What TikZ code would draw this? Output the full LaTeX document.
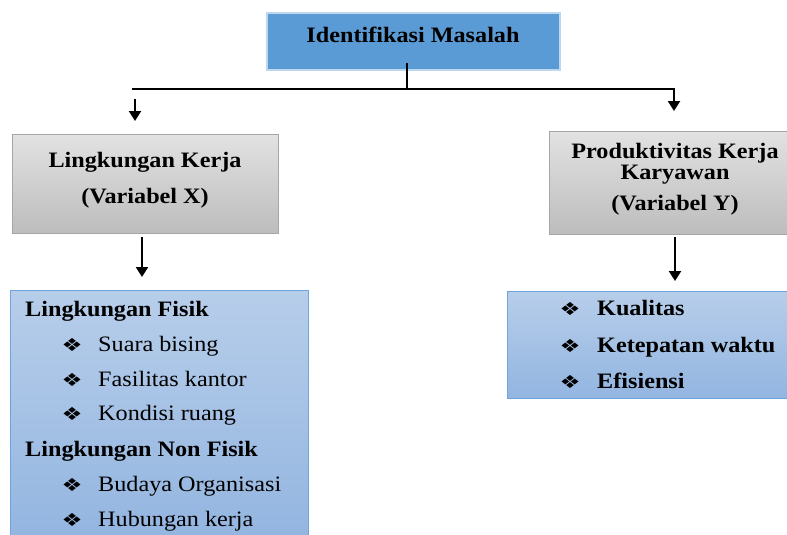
\documentclass[tikz,border=0pt]{standalone}
\usepackage{fontspec}
\setmainfont[FakeStretch=1.1]{Liberation Serif}
\newfontfamily\symfont{DejaVu Sans}
\usetikzlibrary{arrows.meta}
\definecolor{topblue}{HTML}{5B9BD5}
\definecolor{topborder}{HTML}{BDD7EE}
\definecolor{grayA}{HTML}{E2E2E2}
\definecolor{grayB}{HTML}{BDBDBD}
\definecolor{grayedge}{HTML}{A6A6A6}
\definecolor{blueA}{HTML}{B7CEEA}
\definecolor{blueB}{HTML}{93B5E0}
\definecolor{blueedge}{HTML}{6FA3DC}
\newcommand{\dia}{{\symfont\fontsize{18}{18}\selectfont ❖}}
\begin{document}
\begin{tikzpicture}[x=1pt,y=-1pt,
  topbox/.style={draw=topborder,line width=1.2pt,fill=topblue},
  graybox/.style={draw=grayedge,line width=0.8pt,top color=grayA,bottom color=grayB},
  bluebox/.style={draw=blueedge,line width=0.8pt,top color=blueA,bottom color=blueB},
  txt/.style={font=\fontsize{22}{26}\selectfont\bfseries,inner sep=0pt,anchor=base},
  item/.style={font=\fontsize{22}{26}\selectfont,inner sep=0pt,anchor=base west},
  bitem/.style={font=\fontsize{22}{26}\selectfont\bfseries,inner sep=0pt,anchor=base west},
  bul/.style={inner sep=0pt,xscale=1.3},
  conn/.style={line width=2.2pt},
  arr/.style={line width=2.2pt,-{Triangle[width=12pt,length=10pt]}}]
\useasboundingbox (0,0) rectangle (787,535);
% boxes
\path[topbox] (267,13) rectangle (560,70);
\node[txt] (t) at (413,43) {Identifikasi Masalah};
\path[graybox] (12,134) rectangle (278,233);
\node[txt] (lx1) at (145,167) {Lingkungan Kerja};
\node[txt] (lx2) at (145,203) {(Variabel X)};
\path[graybox] (549,131) rectangle (790,234);
\node[txt] (ry1) at (675,158) {Produktivitas Kerja};
\node[txt] (ry2) at (675,179) {Karyawan};
\node[txt] (ry3) at (675,210) {(Variabel Y)};
\path[bluebox] (10,290) rectangle (308,540);
\path[bluebox] (507,291) rectangle (790,398);
% left list
\node[bitem] (h1) at (25,316) {Lingkungan Fisik};
\node[bul] (b1) at (72,345) {\dia};
\node[item] (i1) at (98,351) {Suara bising};
\node[bul] (b2) at (72,380) {\dia};
\node[item] (i2) at (98,386) {Fasilitas kantor};
\node[bul] (b3) at (72,414) {\dia};
\node[item] (i3) at (98,420) {Kondisi ruang};
\node[bitem] (h2) at (25,456) {Lingkungan Non Fisik};
\node[bul] (b4) at (72,485) {\dia};
\node[item] (i4) at (98,491) {Budaya Organisasi};
\node[bul] (b5) at (72,520) {\dia};
\node[item] (i5) at (98,526) {Hubungan kerja};
% right list
\node[bul] (c1) at (570,309) {\dia};
\node[bitem] (k1) at (597,315) {Kualitas};
\node[bul] (c2) at (570,346) {\dia};
\node[bitem] (k2) at (597,352) {Ketepatan waktu};
\node[bul] (c3) at (570,382) {\dia};
\node[bitem] (k3) at (597,388) {Efisiensi};
% connectors
\coordinate (v0) at (407,63);
\coordinate (v1) at (407,89);
\coordinate (hl) at (132,89);
\coordinate (hr) at (674,89);
\coordinate (ra) at (674,111);
\coordinate (la0) at (135,99);
\coordinate (la1) at (135,121);
\coordinate (xa0) at (142,237);
\coordinate (xa1) at (142,277);
\coordinate (ya0) at (675,237);
\coordinate (ya1) at (675,281);
\draw[conn] (v0) -- (v1);
\draw[arr] (hl) -- (hr) -- (ra);
\draw[arr] (la0) -- (la1);
\draw[arr] (xa0) -- (xa1);
\draw[arr] (ya0) -- (ya1);
\end{tikzpicture}
\end{document}
